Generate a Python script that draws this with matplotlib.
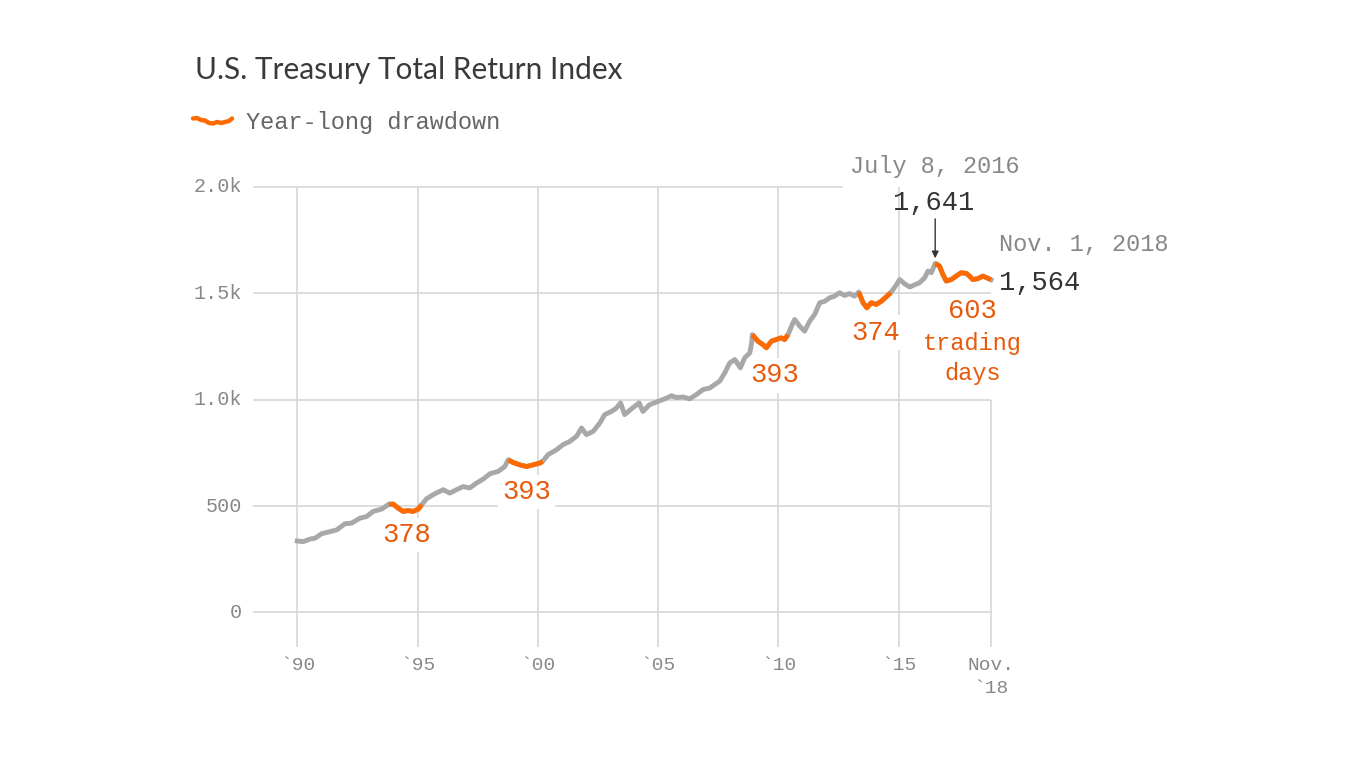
import matplotlib
matplotlib.use("Agg")
import matplotlib.pyplot as plt
from matplotlib.lines import Line2D
import numpy as np

# ---------------- data ----------------
years = [1990.00, 1990.25, 1990.53, 1990.74, 1991.01, 1991.36, 1991.64, 1991.98,
         1992.26, 1992.60, 1992.88, 1993.16, 1993.51, 1993.81, 1993.99, 1994.20,
         1994.40, 1994.61, 1994.82, 1995.03, 1995.17, 1995.38, 1995.72, 1996.07,
         1996.34, 1996.62, 1996.90, 1997.17, 1997.45, 1997.73, 1998.01, 1998.35,
         1998.63, 1998.77, 1998.97, 1999.25, 1999.53, 1999.80, 2000.08, 2000.20,
         2000.43, 2000.78, 2001.05, 2001.33, 2001.61, 2001.82, 2002.02, 2002.30,
         2002.58, 2002.78, 2003.06, 2003.27, 2003.44, 2003.61, 2003.89, 2004.21,
         2004.37, 2004.65, 2005.00, 2005.28, 2005.56, 2005.76, 2006.04, 2006.31,
         2006.59, 2006.87, 2007.15, 2007.35, 2007.56, 2007.77, 2007.98, 2008.19,
         2008.42, 2008.60, 2008.81, 2008.88, 2008.92, 2009.15, 2009.36, 2009.50,
         2009.71, 2009.92, 2010.12, 2010.26, 2010.40, 2010.61, 2010.68, 2010.89,
         2011.09, 2011.30, 2011.51, 2011.72, 2011.93, 2012.13, 2012.34, 2012.55,
         2012.75, 2012.96, 2013.17, 2013.34, 2013.52, 2013.68, 2013.86, 2014.07,
         2014.28, 2014.49, 2014.67, 2014.87, 2015.04, 2015.25, 2015.46, 2015.66,
         2015.87, 2016.08, 2016.22, 2016.36, 2016.52, 2016.70, 2016.84, 2016.98,
         2017.19, 2017.39, 2017.60, 2017.81, 2017.95, 2018.08, 2018.29, 2018.50,
         2018.67, 2018.84]
values = [336, 333, 345, 349, 370, 380, 388, 417,
          420, 443, 451, 475, 486, 509, 509, 490,
          475, 479, 475, 486, 506, 535, 558, 577,
          561, 577, 592, 585, 608, 627, 652, 663,
          686, 718, 705, 694, 686, 694, 702, 710,
          742, 765, 789, 804, 828, 867, 836, 851,
          891, 930, 945, 961, 985, 930, 957, 985,
          945, 977, 992, 1004, 1019, 1010, 1013, 1004,
          1024, 1048, 1055, 1071, 1087, 1126, 1173, 1189,
          1150, 1197, 1220, 1260, 1306, 1275, 1259, 1244,
          1275, 1283, 1291, 1283, 1306, 1362, 1377, 1346,
          1322, 1369, 1401, 1456, 1463, 1479, 1487, 1503,
          1490, 1499, 1487, 1506, 1456, 1432, 1456, 1448,
          1463, 1484, 1503, 1534, 1565, 1545, 1530, 1540,
          1550, 1573, 1605, 1597, 1641, 1628, 1589, 1558,
          1565, 1581, 1597, 1594, 1581, 1565, 1569, 1581,
          1573, 1564]

# year-long drawdowns: (start, end, trading days)
dd_start = [1993.81, 1998.77, 2008.92, 2013.34, 2016.52]
dd_end = [1995.17, 2000.20, 2010.40, 2014.67, 2018.84]
dd_days = ["378", "393", "393", "374", "603"]

y_ticks = [0, 500, 1000, 1500, 2000]
y_tick_labels = ["0", "500", "1.0k", "1.5k", "2.0k"]
x_ticks = [1990, 1995, 2000, 2005, 2010, 2015, 2018.84]
x_tick_labels = ["`90", "`95", "`00", "`05", "`10", "`15", "Nov.\n`18"]

peak_year, peak_value = 2016.52, 1641
last_year, last_value = 2018.84, 1564

# ---------------- style ----------------
plt.rcParams['font.family'] = ['Liberation Mono', 'DejaVu Sans Mono']
GRAY_LINE = "#a8a8a8"
ORANGE = "#ff6a00"
ORANGE_TXT = "#e8590c"
GRID = "#dadada"
TICK_TXT = "#888888"
DARK = "#333333"

W, H = 1366, 768
fig = plt.figure(figsize=(W / 100, H / 100), dpi=100)
ax = fig.add_axes([253 / W, 1 - 647 / H, 738 / W, 460 / H])
ax.set_xlim(1988.16, 2018.84)
ax.set_ylim(-162.4, 2000)
ax.set_axis_off()

x0, x1 = ax.get_xlim()
yb, yt = ax.get_ylim()

# gridlines
for v in y_ticks:
    xe = x1 if v != 2000 else 2012.7
    ax.plot([x0, xe], [v, v], color=GRID, lw=1.3, zorder=1, clip_on=False,
            solid_capstyle='butt')
for xv in x_ticks:
    ytop = yt if xv < 2018 else 1000
    ax.plot([xv, xv], [yb, ytop], color=GRID, lw=1.3, zorder=1, clip_on=False,
            solid_capstyle='butt')

# tick labels
for v, lab in zip(y_ticks, y_tick_labels):
    ax.annotate(lab, xy=(x0, v), xytext=(-8, 0), textcoords='offset points',
                ha='right', va='center', fontsize=14.5, color=TICK_TXT)
for xv, lab in zip(x_ticks, x_tick_labels):
    ax.annotate(lab, xy=(xv, yb), xytext=(0, -7), textcoords='offset points',
                ha='center', va='top', fontsize=14, color=TICK_TXT,
                linespacing=1.45, annotation_clip=False)

# series
yrs = np.array(years)
vals = np.array(values)
ax.plot(yrs, vals, color=GRAY_LINE, lw=3.5, zorder=4, clip_on=False,
        solid_joinstyle='round')
for s, e in zip(dd_start, dd_end):
    m = (yrs >= s - 1e-6) & (yrs <= e + 1e-6)
    ax.plot(yrs[m], vals[m], color=ORANGE, lw=3.5, zorder=5, clip_on=False,
            solid_joinstyle='round', solid_capstyle='butt')

# drawdown labels (white boxes hide gridlines behind them)
box = dict(facecolor='white', edgecolor='none', pad=3)
label_pos = [(1994.56, 365), (1999.54, 567), (2009.85, 1114), (2014.04, 1316),
             (2018.07, 1419)]
for (lx, ly), txt in zip(label_pos, dd_days):
    ax.text(lx, ly, txt, ha='center', va='center', fontsize=19.5,
            color=ORANGE_TXT, bbox=box, zorder=3)
ax.text(2018.07, 1264, "trading", ha='center', va='center', fontsize=17,
        color=ORANGE_TXT, bbox=box, zorder=3)
ax.text(2018.07, 1123, "days", ha='center', va='center', fontsize=17,
        color=ORANGE_TXT, bbox=box, zorder=3)

# peak annotation
ax.text(peak_year - 0.02, 2097, "July 8, 2016", ha='center', va='center',
        fontsize=17, color=TICK_TXT, zorder=3)
ax.text(peak_year - 0.05, 1923, f"{peak_value:,}", ha='center', va='center',
        fontsize=19.5, color=DARK, zorder=3)
ax.annotate("", xy=(peak_year, 1665), xytext=(peak_year, 1850),
            arrowprops=dict(arrowstyle='-|>', color=DARK, lw=1.0,
                            mutation_scale=10, shrinkA=0, shrinkB=0),
            zorder=6, annotation_clip=False)

# last value annotation
ax.text(2019.19, 1730, "Nov. 1, 2018", ha='left', va='center', fontsize=17,
        color=TICK_TXT, zorder=3, clip_on=False)
ax.text(2019.19, 1551, f"{last_value:,}", ha='left', va='center',
        fontsize=19.5, color=DARK, zorder=3, clip_on=False)

# title
fig.text(195 / W, 1 - 79 / H, "U.S. Treasury Total Return Index",
         family=['Lato', 'DejaVu Sans'], fontsize=21.5, color="#3a3a3a",
         ha='left', va='baseline')

# legend (squiggle icon + label)
sx = np.array([193, 197, 201, 205, 209, 213, 217, 221, 225, 229, 232])
sy = np.array([118.5, 118, 120, 120.5, 123, 123.5, 122, 123, 122, 121, 118.5])
fig.add_artist(Line2D(sx / W, 1 - sy / H, color=ORANGE, lw=3.2,
                      solid_capstyle='round', solid_joinstyle='round'))
fig.text(246 / W, 1 - 123 / H, "Year-long drawdown", fontsize=17,
         color="#666666", ha='left', va='center')

fig.savefig("out.png", dpi=100)
